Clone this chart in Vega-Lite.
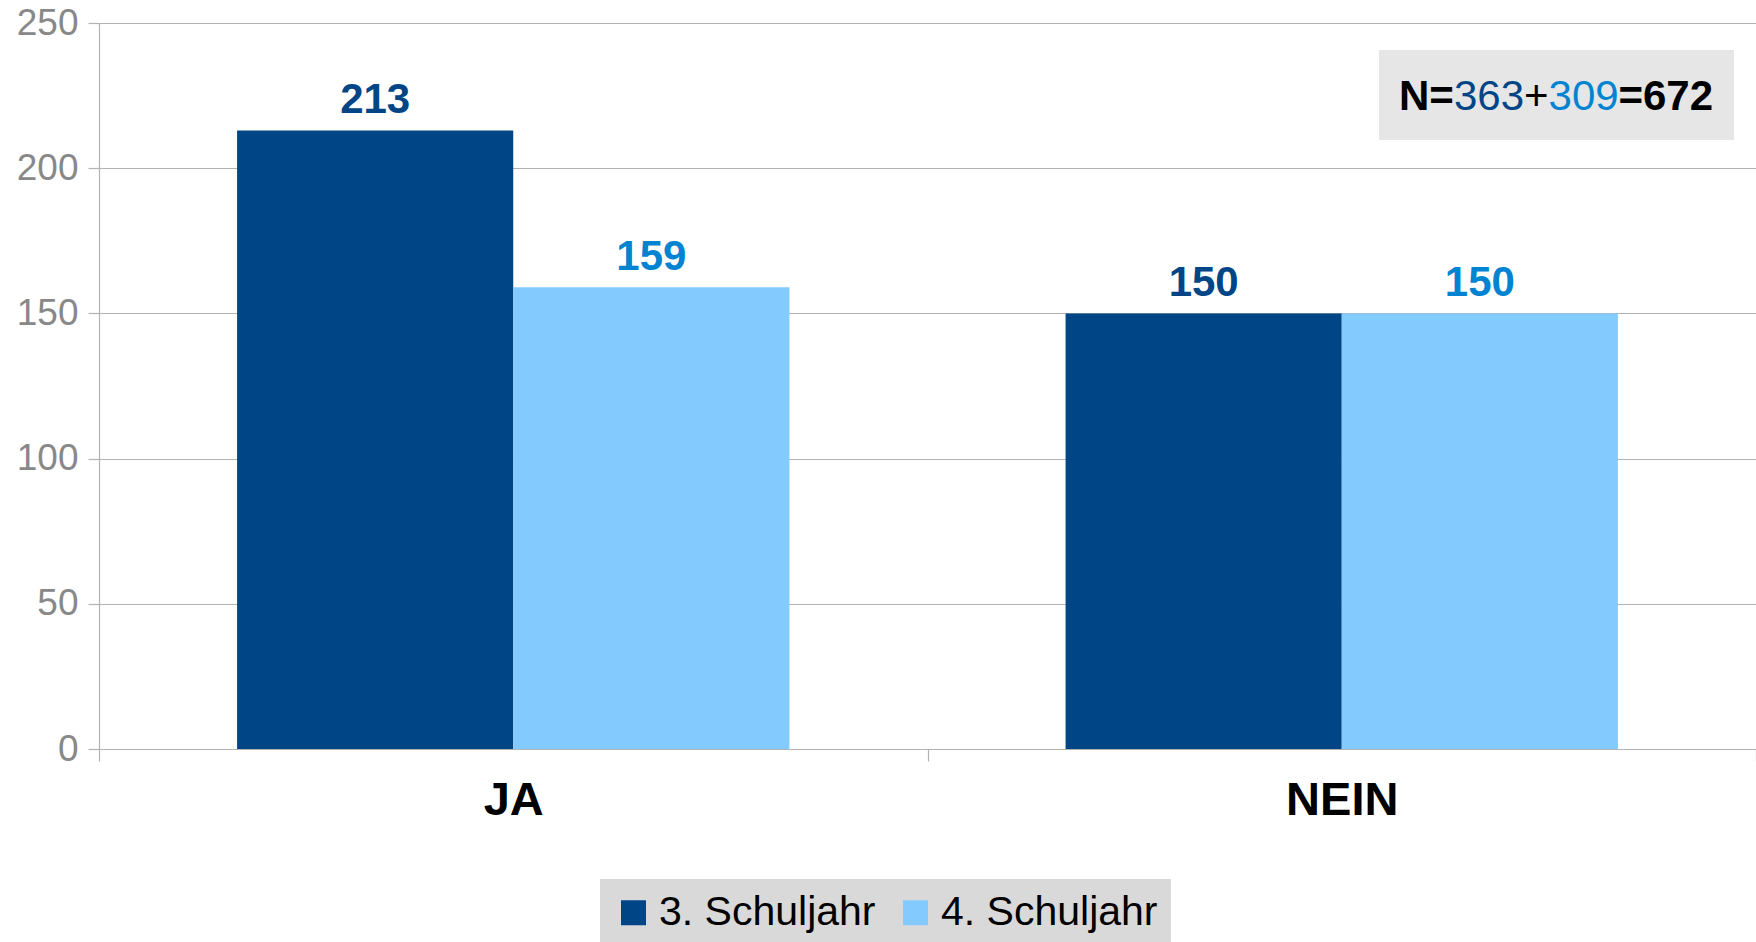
{
  "$schema": "https://vega.github.io/schema/vega-lite/v6.json",
  "width": 1657,
  "height": 726,
  "autosize": {"type": "none"},
  "padding": {"left": 99, "top": 23, "right": 0, "bottom": 193},
  "background": "white",
  "config": {
    "view": {"stroke": null},
    "font": "Liberation Sans",
    "axis": {"titleFontSize": 0}
  },
  "data": {
    "values": [
      {"antwort": "JA", "jahr": "3. Schuljahr", "anzahl": 213},
      {"antwort": "JA", "jahr": "4. Schuljahr", "anzahl": 159},
      {"antwort": "NEIN", "jahr": "3. Schuljahr", "anzahl": 150},
      {"antwort": "NEIN", "jahr": "4. Schuljahr", "anzahl": 150}
    ]
  },
  "resolve": {"scale": {"x": "independent"}},
  "layer": [
    {
      "encoding": {
        "x": {
          "field": "antwort", "type": "nominal", "title": null,
          "scale": {"paddingInner": 0, "paddingOuter": 0},
          "axis": {
            "labelAngle": 0, "labelFont": "Liberation Sans", "labelFontSize": 47,
            "labelFontWeight": "bold", "labelColor": "#000000", "labelPadding": 16,
            "domainColor": "#b3b3b3", "domainWidth": 1.2, "tickColor": "#b3b3b3",
            "tickWidth": 1.2, "tickSize": 12, "tickBand": "extent", "grid": false
          }
        },
        "xOffset": {
          "field": "jahr", "type": "nominal",
          "scale": {"paddingInner": 0, "paddingOuter": 0.5}
        },
        "y": {
          "field": "anzahl", "type": "quantitative", "title": null,
          "scale": {"domain": [0, 250], "nice": false},
          "axis": {
            "values": [0, 50, 100, 150, 200, 250],
            "labelFont": "Liberation Sans", "labelFontSize": 37, "labelColor": "#888888",
            "labelPadding": 10, "tickSize": 11, "tickColor": "#b3b3b3", "tickWidth": 1.2,
            "domainColor": "#b3b3b3", "domainWidth": 1.2,
            "gridColor": "#b3b3b3", "gridWidth": 1.2
          }
        }
      },
      "layer": [
        {
          "mark": {"type": "bar"},
          "encoding": {
            "color": {
              "field": "jahr", "type": "nominal",
              "scale": {"domain": ["3. Schuljahr", "4. Schuljahr"], "range": ["#004586", "#83caff"]},
              "legend": {
                "title": null, "orient": "none", "direction": "horizontal",
                "legendX": 501, "legendY": 856,
                "fillColor": "#d9d9d9", "padding": 13,
                "symbolType": "square", "symbolSize": 625, "symbolStrokeWidth": 0,
                "labelFont": "Liberation Sans", "labelFontSize": 41, "labelColor": "#000000",
                "labelOffset": 5, "columnPadding": 19, "labelLimit": 400
              }
            }
          }
        },
        {
          "mark": {"type": "text", "baseline": "alphabetic", "dy": -17, "font": "Liberation Sans", "fontSize": 42, "fontWeight": "bold"},
          "encoding": {
            "text": {"field": "anzahl", "type": "quantitative"},
            "color": {
              "condition": {"test": "datum.jahr === '3. Schuljahr'", "value": "#004586"},
              "value": "#0084d1"
            }
          }
        }
      ]
    },
    {
      "data": {"values": [{"hinweis": "N"}]},
      "layer": [
        {
          "mark": {"type": "rect", "color": "#e6e6e6"},
          "encoding": {
            "x": {"datum": 0.7725, "type": "quantitative", "scale": {"domain": [0, 1], "nice": false, "zero": false}, "axis": null},
            "x2": {"datum": 0.9867},
            "y": {"datum": 240.7, "type": "quantitative", "title": null},
            "y2": {"datum": 209.7}
          }
        },
        {
          "mark": {"type": "text", "align": "left", "baseline": "alphabetic", "font": "Liberation Sans", "fontSize": 42, "fontWeight": "bold", "color": "#000000", "text": "N="},
          "encoding": {
            "x": {"datum": 0.7845, "type": "quantitative", "scale": {"domain": [0, 1], "nice": false, "zero": false}, "axis": null},
            "y": {"datum": 220, "type": "quantitative", "title": null}
          }
        },
        {
          "mark": {"type": "text", "align": "left", "baseline": "alphabetic", "font": "Liberation Sans", "fontSize": 42, "color": "#004586", "text": "363"},
          "encoding": {
            "x": {"datum": 0.8177, "type": "quantitative", "scale": {"domain": [0, 1], "nice": false, "zero": false}, "axis": null},
            "y": {"datum": 220, "type": "quantitative", "title": null}
          }
        },
        {
          "mark": {"type": "text", "align": "left", "baseline": "alphabetic", "font": "Liberation Sans", "fontSize": 42, "color": "#000000", "text": "+"},
          "encoding": {
            "x": {"datum": 0.86, "type": "quantitative", "scale": {"domain": [0, 1], "nice": false, "zero": false}, "axis": null},
            "y": {"datum": 220, "type": "quantitative", "title": null}
          }
        },
        {
          "mark": {"type": "text", "align": "left", "baseline": "alphabetic", "font": "Liberation Sans", "fontSize": 42, "color": "#0084d1", "text": "309"},
          "encoding": {
            "x": {"datum": 0.8748, "type": "quantitative", "scale": {"domain": [0, 1], "nice": false, "zero": false}, "axis": null},
            "y": {"datum": 220, "type": "quantitative", "title": null}
          }
        },
        {
          "mark": {"type": "text", "align": "left", "baseline": "alphabetic", "font": "Liberation Sans", "fontSize": 42, "fontWeight": "bold", "color": "#000000", "text": "=672"},
          "encoding": {
            "x": {"datum": 0.917, "type": "quantitative", "scale": {"domain": [0, 1], "nice": false, "zero": false}, "axis": null},
            "y": {"datum": 220, "type": "quantitative", "title": null}
          }
        }
      ]
    }
  ]
}
